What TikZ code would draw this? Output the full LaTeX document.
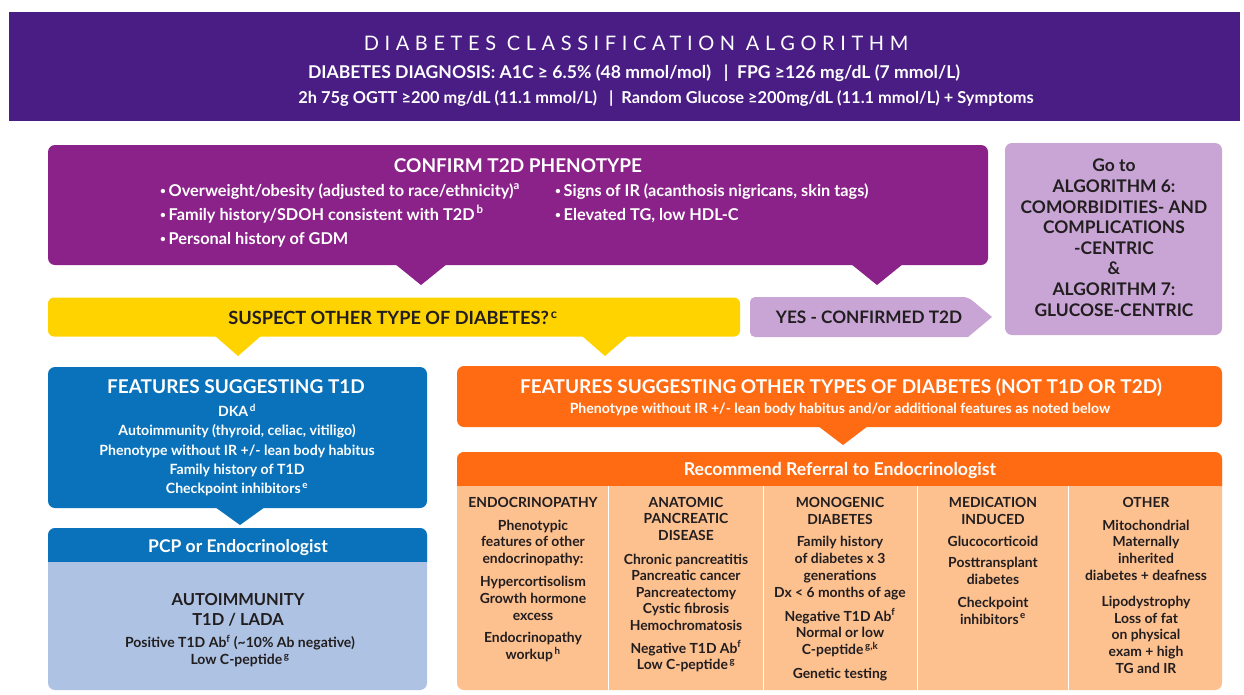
\documentclass[tikz,border=0pt]{standalone}
\usepackage{fontspec}
\setmainfont{Lato}
\newfontfamily\spaced[LetterSpace=28]{Lato}
\usetikzlibrary{calc}
\definecolor{hdr}{RGB}{73,29,132}
\definecolor{tpurp}{RGB}{139,34,137}
\definecolor{lav}{RGB}{200,165,213}
\definecolor{yel}{RGB}{255,211,0}
\definecolor{tblue}{RGB}{10,114,186}
\definecolor{lblue}{RGB}{174,195,228}
\definecolor{org}{RGB}{255,107,18}
\definecolor{lorg}{RGB}{253,192,143}
\definecolor{ink}{RGB}{34,30,32}
\newcommand\bul{\raisebox{1.5pt}{\fontsize{10}{10}\selectfont•}\,}
\tikzset{
  panel/.style={inner sep=0pt, outer sep=0pt, rounded corners=7pt},
  wtxt/.style={text=white, inner sep=0pt, align=center},
  btxt/.style={text=ink, inner sep=0pt, align=center},
  fnt/.style 2 args={font=\bfseries\fontsize{#1}{#2}\selectfont},
}
\begin{document}
\begin{tikzpicture}[x=1pt,y=-1pt]
\useasboundingbox (0,0) rectangle (1244,694);
\fill[white] (0,0) rectangle (1244,694);
% header
\node[fill=hdr, inner sep=0pt, minimum width=1231pt, minimum height=109pt] (head) at (624.5,66.5) {};
\node[text=white, inner sep=0pt, anchor=mid, font=\spaced\fontsize{20}{22}\selectfont] (title) at (636,48) {DIABETES CLASSIFICATION ALGORITHM};
\node[wtxt, anchor=mid, fnt={17.6}{19}] (dx1) at (634,76) {DIABETES DIAGNOSIS: A1C ≥ 6.5\% (48 mmol/mol) \ \ |\ \ FPG ≥126 mg/dL (7 mmol/L)};
\node[wtxt, anchor=mid, fnt={16.4}{19}] (dx2) at (666,101) {2h 75g OGTT ≥200 mg/dL (11.1 mmol/L) \ \ | \ Random Glucose ≥200mg/dL (11.1 mmol/L) + Symptoms};
% confirm T2D
\node[panel, fill=tpurp, minimum width=940pt, minimum height=120pt] (t2d) at (518,205) {};
\fill[tpurp] (395,264) -- (447,264) -- (421,285) -- cycle;
\fill[tpurp] (851,264) -- (903,264) -- (877,285) -- cycle;
\node[wtxt, anchor=mid, fnt={19}{22}] (t2dt) at (518,170) {CONFIRM T2D PHENOTYPE};
\node[wtxt, anchor=north west, align=left, fnt={16.3}{24}] (t2dl) at (160,183) {\bul Overweight/obesity (adjusted to race/ethnicity)\textsuperscript{a}\\\bul Family history/SDOH consistent with T2D\textsuperscript{\,b}\\\bul Personal history of GDM};
\node[wtxt, anchor=north west, align=left, fnt={16.3}{24}] (t2dr) at (555,183) {\bul Signs of IR (acanthosis nigricans, skin tags)\\\bul Elevated TG, low HDL-C};
% go to box
\node[panel, fill=lav, minimum width=217pt, minimum height=192pt] (goto) at (1113.5,239) {};
\node[btxt, anchor=north, fnt={17.4}{20.6}] (gotot) at (1114,159) {Go to\\ALGORITHM 6:\\COMORBIDITIES- AND\\COMPLICATIONS\\-CENTRIC\\\&\\ALGORITHM 7:\\GLUCOSE-CENTRIC};
% suspect
\node[panel, rounded corners=6pt, fill=yel, minimum width=692pt, minimum height=39pt] (susp) at (394,317) {};
\fill[yel] (214,335) -- (262,335) -- (238,356) -- cycle;
\fill[yel] (581,335) -- (629,335) -- (605,356) -- cycle;
\node[btxt, anchor=mid, fnt={18.2}{20}] (suspt) at (393,322) {SUSPECT OTHER TYPE OF DIABETES?\textsuperscript{\,c}};
% yes confirmed
\fill[lav, rounded corners=5pt] (750,297) -- (968,297) [sharp corners] -- (992,317) -- (968,337) [rounded corners=5pt] -- (750,337) -- cycle;
\node[btxt, anchor=mid, fnt={17.2}{19}] (yes) at (869,321) {YES - CONFIRMED T2D};
% T1D
\node[panel, fill=tblue, minimum width=379pt, minimum height=141pt] (t1d) at (237.5,437.5) {};
\fill[tblue] (215,507) -- (265,507) -- (240,525) -- cycle;
\node[wtxt, anchor=mid, fnt={19}{22}] (t1dt) at (236,391) {FEATURES SUGGESTING T1D};
\node[wtxt, anchor=north, fnt={14.1}{19.2}] (t1dl) at (237,404) {DKA\textsuperscript{\,d}\\Autoimmunity (thyroid, celiac, vitiligo)\\Phenotype without IR +/- lean body habitus\\Family history of T1D\\Checkpoint inhibitors\textsuperscript{\,e}};
% PCP
\node[panel, fill=lblue, minimum width=379pt, minimum height=162pt] (pcp) at (237.5,609) {};
\fill[tblue, rounded corners=7pt] (48,528) rectangle (427,570);
\fill[tblue] (48,555) rectangle (427,562);
\fill[lblue] (48,562) rectangle (427,572);
\node[wtxt, anchor=mid, fnt={17.5}{20}] (pcpt) at (238,550) {PCP or Endocrinologist};
\node[btxt, anchor=north, fnt={16.5}{20}] (auto) at (238,593) {AUTOIMMUNITY\\T1D / LADA};
\node[btxt, anchor=north, fnt={14}{17}] (autol) at (240,635) {Positive T1D Ab\textsuperscript{f} (\textasciitilde10\% Ab negative)\\Low C-peptide\textsuperscript{\,g}};
% other types
\node[panel, fill=org, minimum width=765pt, minimum height=61pt] (oth) at (839.5,396.5) {};
\fill[org] (818,426) -- (868,426) -- (843,445) -- cycle;
\node[wtxt, anchor=mid, fnt={19}{22}] (otht) at (841,391) {FEATURES SUGGESTING OTHER TYPES OF DIABETES (NOT T1D OR T2D)};
\node[wtxt, anchor=mid, fnt={14.1}{16}] (oths) at (840,411) {Phenotype without IR +/- lean body habitus and/or additional features as noted below};
% referral
\node[panel, fill=lorg, minimum width=765pt, minimum height=238pt] (ref) at (839.5,571) {};
\fill[org, rounded corners=7pt] (457,452) rectangle (1222,494);
\fill[org] (457,480) rectangle (1222,486);
\fill[lorg] (457,486) rectangle (1222,496);
\node[wtxt, anchor=mid, fnt={17.7}{20}] (reft) at (840,473) {Recommend Referral to Endocrinologist};
\foreach \xx in {608,763,917,1068} \draw[white, line width=1pt] (\xx,486) -- (\xx,690);
% columns
\node[btxt, anchor=north, fnt={13.9}{16.8}] (c1) at (533,497) {ENDOCRINOPATHY\\[6pt]Phenotypic\\features of other\\endocrinopathy:\\[6pt]Hypercortisolism\\Growth hormone\\excess\\[6pt]Endocrinopathy\\workup\textsuperscript{\,h}};
\node[btxt, anchor=north, fnt={13.9}{16.6}] (c2) at (686,497) {ANATOMIC\\PANCREATIC\\DISEASE\\[7pt]Chronic pancreatitis\\Pancreatic cancer\\Pancreatectomy\\Cystic fibrosis\\Hemochromatosis\\[6pt]Negative T1D Ab\textsuperscript{f}\\Low C-peptide\textsuperscript{\,g}};
\node[btxt, anchor=north, fnt={13.9}{16.8}] (c3) at (840,497) {MONOGENIC\\DIABETES\\[6pt]Family history\\of diabetes x 3\\generations\\Dx < 6 months of age\\[7pt]Negative T1D Ab\textsuperscript{f}\\Normal or low\\C-peptide\textsuperscript{\,g,k}\\[7pt]Genetic testing};
\node[btxt, anchor=north, fnt={13.9}{16.8}] (c4) at (993,497) {MEDICATION\\INDUCED\\[6pt]Glucocorticoid\\[4pt]Posttransplant\\diabetes\\[6pt]Checkpoint\\inhibitors\textsuperscript{\,e}};
\node[btxt, anchor=north, fnt={13.9}{16.8}] (c5) at (1146,497) {OTHER\\[6pt]Mitochondrial\\Maternally\\inherited\\diabetes + deafness\\[9pt]Lipodystrophy\\Loss of fat\\on physical\\exam + high\\TG and IR};
\end{tikzpicture}
\end{document}
